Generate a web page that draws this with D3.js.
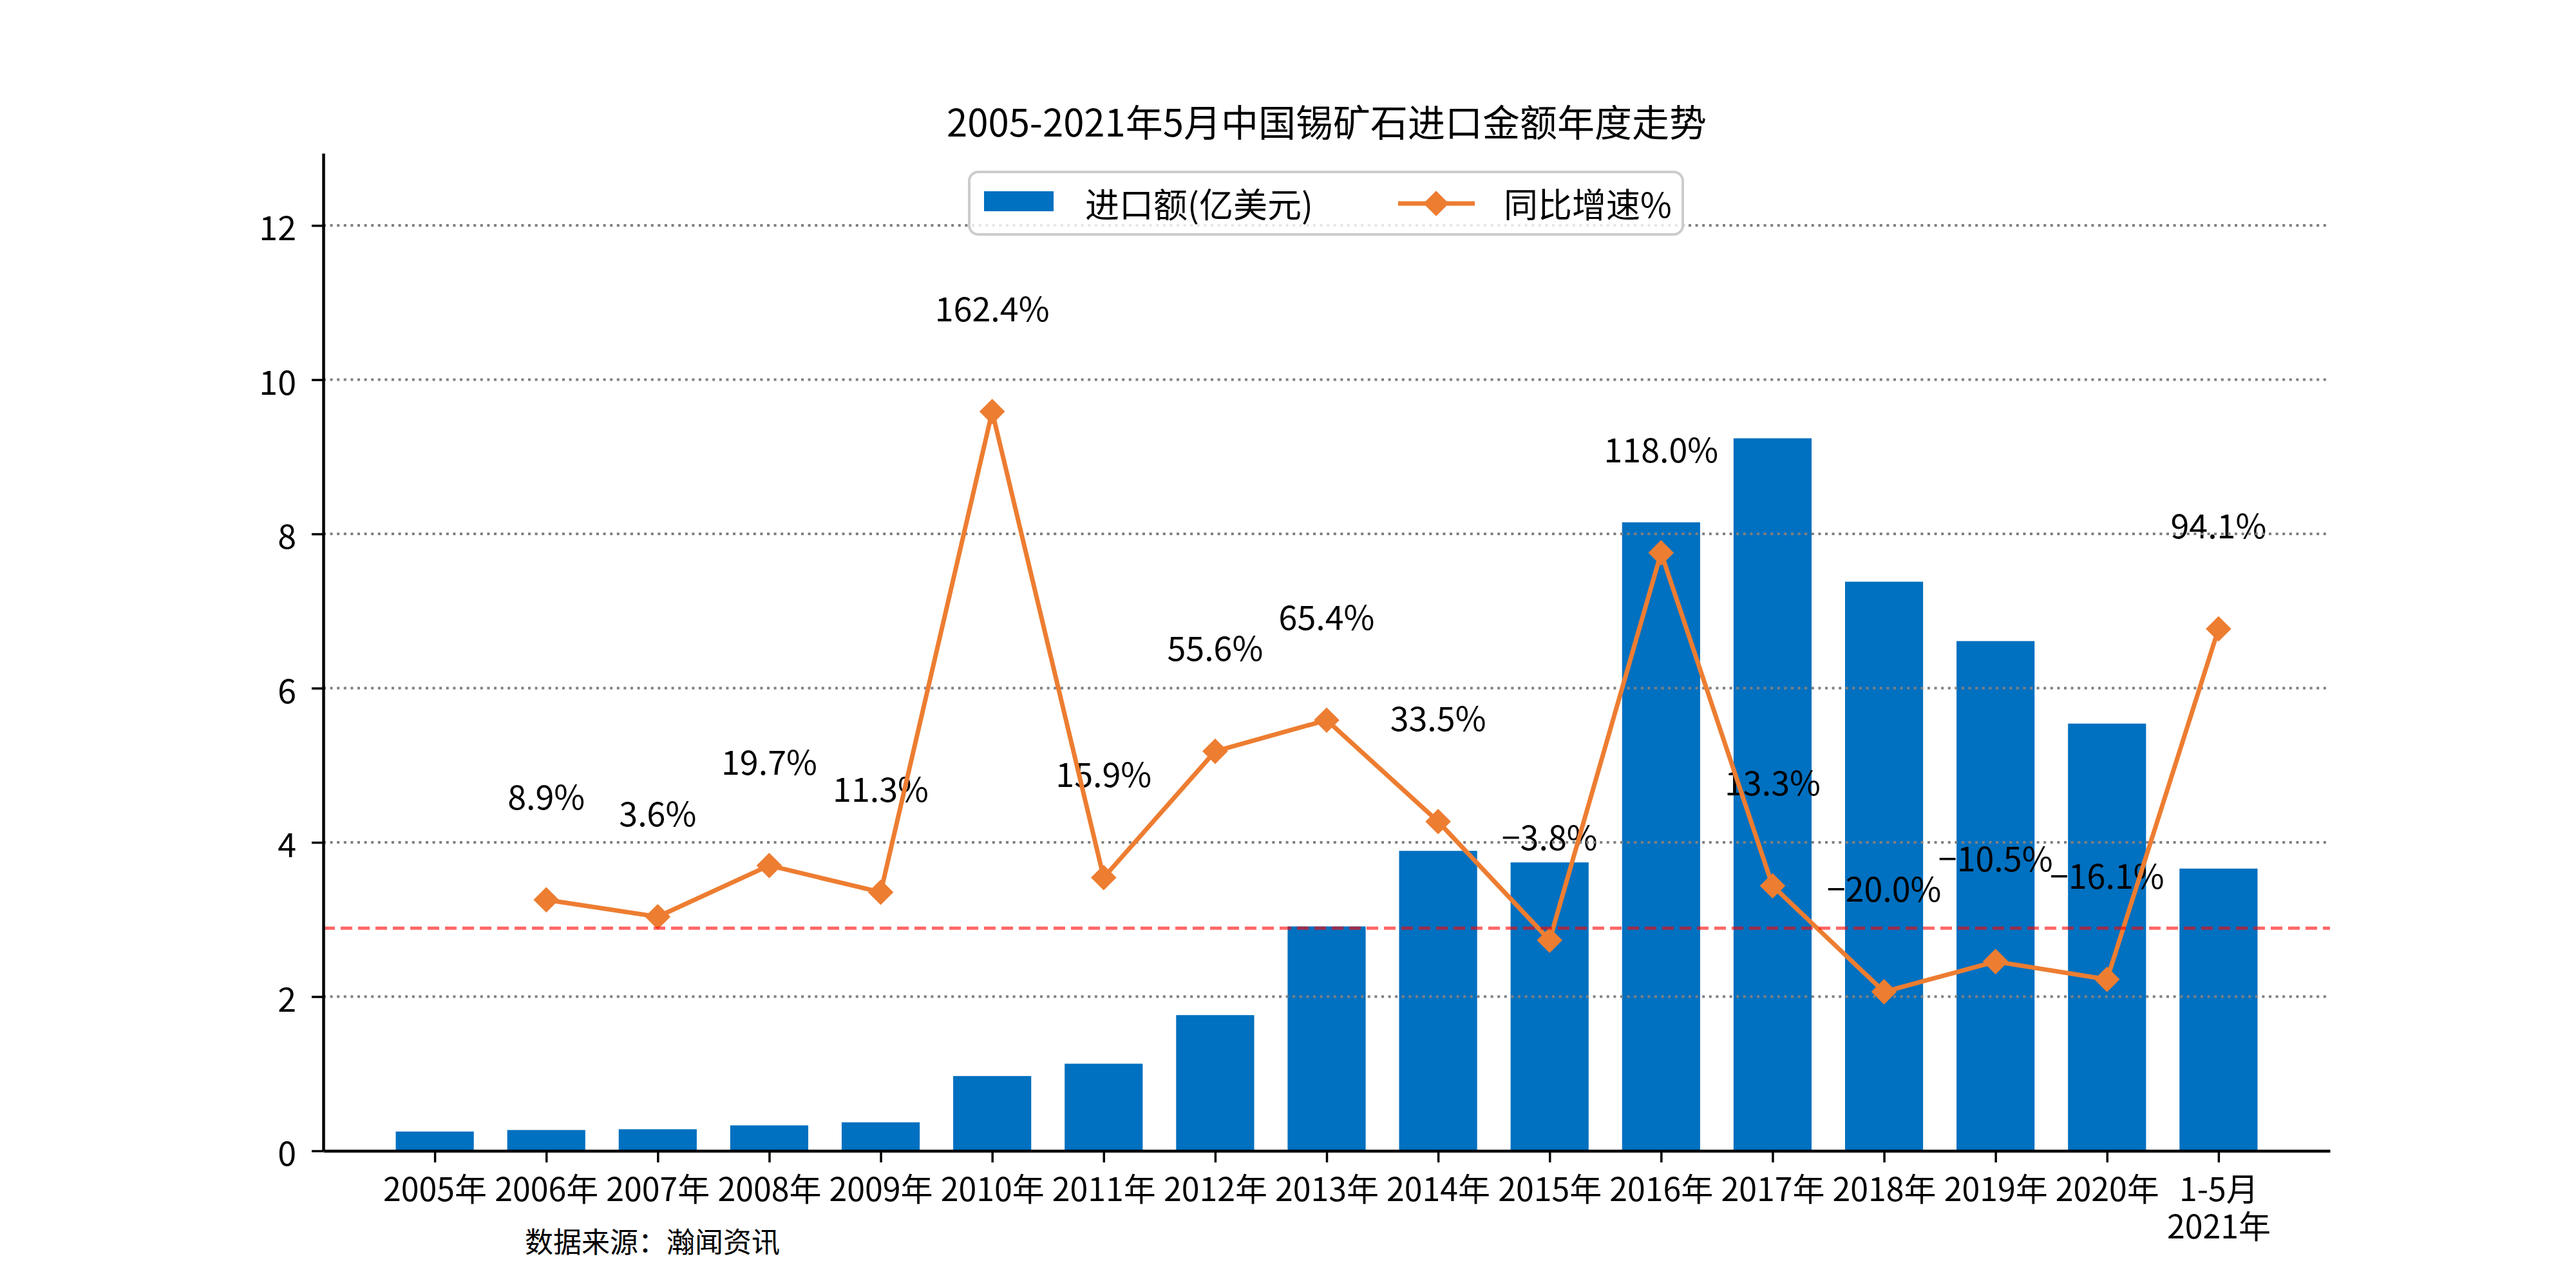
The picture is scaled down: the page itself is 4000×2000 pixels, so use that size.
<!DOCTYPE html>
<html>
<head>
<meta charset="utf-8">
<script src="https://cdn.jsdelivr.net/npm/d3@7"></script>
<style>
  body { margin: 0; background: #fff; }
  text { font-family: "Noto Sans CJK SC", "Noto Sans", sans-serif; }
</style>
</head>
<body>
<div class="view1"></div>
<script>
// categories and values
const categories = ["2005年", "2006年", "2007年", "2008年", "2009年", "2010年", "2011年", "2012年",
    "2013年", "2014年", "2015年", "2016年", "2017年", "2018年", "2019年", "2020年", "1-5月\n2021年"];
const importValues = [0.25, 0.27, 0.28, 0.33, 0.37, 0.97, 1.13, 1.76, 2.91, 3.89, 3.74, 8.15, 9.24, 7.38, 6.61, 5.54, 3.66];
const growthValues = [null, 8.9, 3.6, 19.7, 11.3, 162.4, 15.9, 55.6, 65.4, 33.5, -3.8, 118.0, 13.3, -20.0, -10.5, -16.1, 94.1];
const yTicks = [0, 2, 4, 6, 8, 10, 12];
const seriesNames = ["进口额(亿美元)", "同比增速%"];
const titleText = "2005-2021年5月中国锡矿石进口金额年度走势";
const sourceText = "数据来源：瀚闻资讯";

/** Bar + line chart of the tin ore imports */
class ImportChart {

    constructor(){
        this.W = 4000;
        this.H = 2000;
        // plot area, matplotlib style
        this.margin = {top: 238, right: 382, bottom: 213, left: 502};
        this.barColor = "#0070C0";
        this.lineColor = "#ED7D31";
    }

    draw(){
        let m = this.margin;
        let svg = d3.select(".view1").append("svg")
            .attr("width", this.W)
            .attr("height", this.H);

        // scales
        let x = d3.scaleLinear().domain([-1, categories.length]).range([m.left, this.W - m.right]);
        let step = x(1) - x(0);
        let y = d3.scaleLinear().domain([0, d3.max(importValues) * 1.4]).range([this.H - m.bottom, m.top]);
        // hidden twin axis for growth rate
        let y2 = d3.scaleLinear().domain([-70, 162.4 * 1.5]).range([this.H - m.bottom, m.top]);

        // bars
        svg.append("g").selectAll("rect")
            .data(importValues)
            .enter().append("rect")
            .attr("x", (d, i) => x(i) - step * 0.35)
            .attr("width", step * 0.7)
            .attr("y", d => y(d))
            .attr("height", d => y(0) - y(d))
            .attr("fill", this.barColor);

        // growth labels
        let pts = growthValues.map((v, i) => ({i: i, v: v})).filter(d => d.v !== null);
        let fmt = d3.format(".1f");
        svg.append("g").selectAll("text")
            .data(pts)
            .enter().append("text")
            .attr("x", d => x(d.i))
            .attr("y", d => y2(d.v + 33))
            .attr("text-anchor", "middle")
            .attr("dominant-baseline", "central")
            .attr("font-size", 52)
            .text(d => fmt(d.v) + "%");

        // dotted grid
        svg.append("g").selectAll("line")
            .data(yTicks.filter(t => t > 0))
            .enter().append("line")
            .attr("x1", x.range()[0]).attr("x2", x.range()[1])
            .attr("y1", d => y(d)).attr("y2", d => y(d))
            .attr("stroke", "#808080")
            .attr("stroke-width", 4)
            .attr("stroke-dasharray", "4,6.6");

        // growth line with diamond markers
        let line = d3.line().x(d => x(d.i)).y(d => y2(d.v));
        svg.append("path")
            .datum(pts)
            .attr("d", line)
            .attr("fill", "none")
            .attr("stroke", this.lineColor)
            .attr("stroke-width", 7)
            .attr("stroke-linejoin", "round");
        svg.append("g").selectAll("path")
            .data(pts)
            .enter().append("path")
            .attr("d", d3.symbol(d3.symbolSquare, 28 * 28))
            .attr("transform", d => "translate(" + x(d.i) + "," + y2(d.v) + ") rotate(45)")
            .attr("fill", this.lineColor);

        // zero growth reference line
        svg.append("line")
            .attr("x1", x.range()[0]).attr("x2", x.range()[1])
            .attr("y1", y2(0)).attr("y2", y2(0))
            .attr("stroke", "red")
            .attr("stroke-opacity", 0.6)
            .attr("stroke-width", 5)
            .attr("stroke-dasharray", "18,9");

        // axes
        let yAxis = svg.append("g")
            .attr("transform", "translate(" + m.left + ",0)")
            .call(d3.axisLeft(y).tickValues(yTicks).tickSize(18).tickSizeOuter(0).tickPadding(24));
        yAxis.select(".domain").attr("stroke-width", 4.5);
        yAxis.selectAll(".tick line").attr("stroke-width", 3.5);
        yAxis.selectAll(".tick text").attr("font-size", 52).attr("font-family", "Noto Sans CJK SC")
            .attr("dy", null).attr("dominant-baseline", "central");

        let xAxis = svg.append("g")
            .attr("transform", "translate(0," + (this.H - m.bottom) + ")")
            .call(d3.axisBottom(x).tickValues(d3.range(categories.length)).tickFormat(i => categories[i])
                .tickSize(18).tickSizeOuter(0));
        xAxis.select(".domain").attr("stroke-width", 4.5);
        xAxis.selectAll(".tick line").attr("stroke-width", 3.5);
        xAxis.selectAll(".tick text")
            .attr("font-size", 50).attr("font-family", "Noto Sans CJK SC")
            .attr("y", 0).attr("dy", null)
            .each(function(i){
                let t = d3.select(this);
                let lines = categories[i].split("\n");
                t.text(null);
                lines.forEach((s, k) => {
                    t.append("tspan").attr("x", 0).attr("y", 56 + k * 58)
                        .attr("dominant-baseline", "central").text(s);
                });
            });

        // title
        svg.append("text")
            .attr("x", (x.range()[0] + x.range()[1]) / 2)
            .attr("y", 187)
            .attr("text-anchor", "middle")
            .attr("dominant-baseline", "central")
            .attr("font-size", 58)
            .text(titleText);

        // source note
        svg.append("text")
            .attr("x", 815)
            .attr("y", 1926)
            .attr("dominant-baseline", "central")
            .attr("font-size", 44)
            .text(sourceText);

        // legend
        let lg = svg.append("g");
        lg.append("rect")
            .attr("x", 1505).attr("y", 267)
            .attr("width", 1108).attr("height", 97)
            .attr("rx", 14)
            .attr("fill", "white").attr("fill-opacity", 0.8)
            .attr("stroke", "#cccccc").attr("stroke-width", 4);
        lg.append("rect")
            .attr("x", 1528).attr("y", 297)
            .attr("width", 108).attr("height", 31)
            .attr("fill", this.barColor);
        lg.append("text")
            .attr("x", 1685).attr("y", 315)
            .attr("dominant-baseline", "central")
            .attr("font-size", 53)
            .text(seriesNames[0]);
        lg.append("line")
            .attr("x1", 2171).attr("x2", 2290)
            .attr("y1", 316).attr("y2", 316)
            .attr("stroke", this.lineColor).attr("stroke-width", 7);
        lg.append("path")
            .attr("d", d3.symbol(d3.symbolSquare, 28 * 28))
            .attr("transform", "translate(2230,316) rotate(45)")
            .attr("fill", this.lineColor);
        lg.append("text")
            .attr("x", 2335).attr("y", 315)
            .attr("dominant-baseline", "central")
            .attr("font-size", 53)
            .text(seriesNames[1]);
    }
}

let chart = new ImportChart();
chart.draw();
</script>
</body>
</html>
